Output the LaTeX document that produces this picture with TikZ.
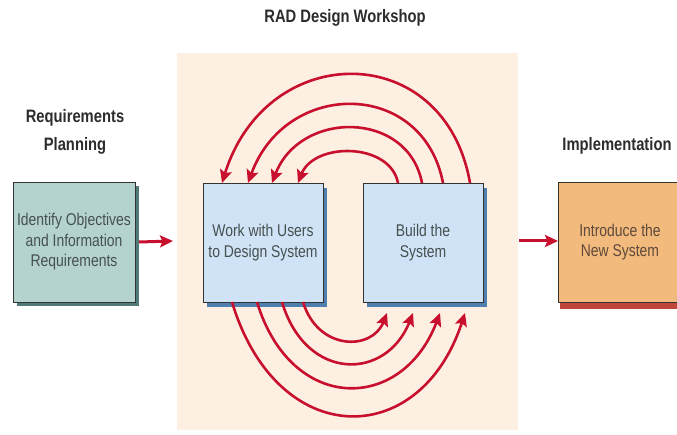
\documentclass[tikz,border=0pt]{standalone}
\usepackage{fontspec}
\setmainfont{Liberation Sans}[FakeStretch=0.82]
\usetikzlibrary{arrows.meta,calc,shadows}
\definecolor{peach}{HTML}{FDF0E2}
\definecolor{tealfill}{HTML}{B4D3CF}
\definecolor{tealshadow}{HTML}{4F7A78}
\definecolor{bluefill}{HTML}{CFE2F6}
\definecolor{blueshadow}{HTML}{4E7FAF}
\definecolor{orangefill}{HTML}{F2BA7C}
\definecolor{orangeshadow}{HTML}{C0453A}
\definecolor{boxtext}{HTML}{46504F}
\definecolor{orangetext}{HTML}{5E4A3C}
\definecolor{titletext}{HTML}{2C2C2C}
\definecolor{arcred}{HTML}{C8102E}
\tikzset{
  box/.style={draw=black!80, line width=0.9pt, inner sep=0pt, outer sep=0pt,
    minimum width=120pt, minimum height=119pt, align=center, text=boxtext,
    font=\fontsize{17}{20.5}\selectfont},
  title/.style={align=center, text=titletext, font=\bfseries\fontsize{18}{28}\selectfont},
  loop/.style={draw=arcred, line width=2.6pt, -{Stealth[length=13pt,width=12pt,inset=2.5pt]}},
  flow/.style={draw=arcred, line width=3pt, -{Stealth[length=13pt,width=12pt,inset=2.5pt]}}
}
\begin{document}
\begin{tikzpicture}[x=1pt,y=-1pt]
\useasboundingbox (0,0) rectangle (677,435);
\clip (0,0) rectangle (677,435);
\fill[white] (0,0) rectangle (677,435);
\fill[peach] (177,53) rectangle (518,430);

\node[title] (ttop) at (345,18) {RAD Design Workshop};
\node[title] (treq) at (75,132) {Requirements\\Planning};
\node[title] (timpl) at (617,146) {Implementation};

\node[box, fill=tealfill, minimum width=122pt, minimum height=120pt,
  drop shadow={shadow xshift=3.5pt, shadow yshift=-4pt, fill=tealshadow, opacity=1}]
  (req) at (74,242) {Identify Objectives\\and Information\\Requirements};
\node[box, fill=bluefill,
  drop shadow={shadow xshift=4pt, shadow yshift=-5pt, fill=blueshadow, opacity=1}]
  (work) at (263,242.5) {Work with Users\\to Design System};
\node[box, fill=bluefill,
  drop shadow={shadow xshift=4pt, shadow yshift=-5pt, fill=blueshadow, opacity=1}]
  (build) at (423,242.5) {Build the\\System};
\node[box, fill=orangefill, minimum width=124pt, minimum height=120pt, text=orangetext,
  drop shadow={shadow xshift=2pt, shadow yshift=-7pt, fill=orangeshadow, opacity=1}]
  (impl) at (620,242) {Introduce the\\New System};

% flow arrows
\coordinate (inL) at (173,241);
\coordinate (outR) at (519,241);
\draw[flow] ([xshift=4pt]req.east) -- (inL);
\draw[flow] (outR) -- (outR -| impl.west);

% top feedback arcs: Build -> Work
\draw[loop] ($(build.north west)+(35,0)$) .. controls +(-8,-41) and +(16,-41) .. ($(work.north west)+(95,0)$);
\draw[loop] ($(build.north west)+(59,0)$) .. controls +(-14,-73) and +(28,-73) .. ($(work.north west)+(69,0)$);
\draw[loop] ($(build.north west)+(80,0)$) .. controls +(-20,-104) and +(38,-104) .. ($(work.north west)+(45,0)$);
\draw[loop] ($(build.north west)+(107,0)$) .. controls +(-25,-144) and +(45,-144) .. ($(work.north west)+(19,0)$);

% bottom arcs: Work -> Build
\draw[loop] ($(work.south west)+(100,0)$) .. controls +(15,49) and +(-15,38) .. ($(build.south west)+(24,11)$);
\draw[loop] ($(work.south west)+(79,0)$) .. controls +(24,80) and +(-27,68) .. ($(build.south west)+(50,11)$);
\draw[loop] ($(work.south west)+(54,0)$) .. controls +(34,112) and +(-38,100) .. ($(build.south west)+(77,11)$);
\draw[loop] ($(work.south west)+(29,0)$) .. controls +(45,149) and +(-45,138) .. ($(build.south west)+(102,11)$);
\end{tikzpicture}
\end{document}
